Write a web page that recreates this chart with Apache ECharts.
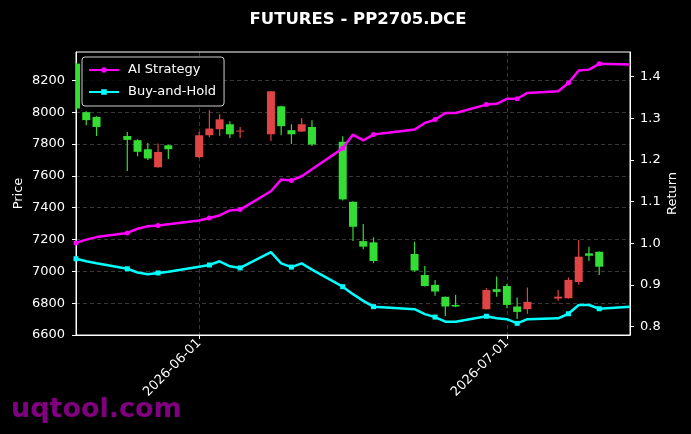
<!doctype html>
<html>
<head>
<meta charset="UTF-8">
<script src="https://cdn.jsdelivr.net/npm/echarts@6/dist/echarts.min.js"></script>
<style>
  html, body { margin: 0; padding: 0; background: #000; }
  #chart { width: 691px; height: 434px; }
</style>
</head>
<body>
<div id="chart"></div>
<script>
// trading days
var dates = ['2026-05-20','2026-05-21','2026-05-22','2026-05-25','2026-05-26','2026-05-27','2026-05-28','2026-05-29',
             '2026-06-01','2026-06-02','2026-06-03','2026-06-04','2026-06-05','2026-06-08','2026-06-09','2026-06-10',
             '2026-06-11','2026-06-12','2026-06-15','2026-06-16','2026-06-17','2026-06-18','2026-06-22','2026-06-23',
             '2026-06-24','2026-06-25','2026-06-26','2026-06-29','2026-06-30','2026-07-01','2026-07-02','2026-07-03',
             '2026-07-06','2026-07-07','2026-07-08','2026-07-09','2026-07-10','2026-07-13'];

// candles (one less than dates, last day has no bar)
var open  = [8305,8000,7970,7850,7824,7767,7654,7792,7717,7855,7893,7924,7880,7861,8037,7887,7878,7907,7814,
             7437,7190,7182,7109,6977,6915,6840,6789,6762,6888,6908,6779,6762,6829,6831,6933,7113,7123];
var close = [8023,7950,7907,7826,7751,7709,7750,7767,7855,7897,7955,7861,7884,8131,7912,7861,7924,7797,7452,
             7280,7155,7065,7005,6908,6873,6779,6779,6883,6871,6789,6745,6808,6841,6946,7092,7098,7029];
var low   = [8010,7918,7850,7630,7723,7700,7650,7705,7712,7843,7851,7838,7838,7819,7855,7800,7875,7788,7445,
             7190,7138,7051,6998,6904,6846,6720,6775,6760,6841,6768,6700,6733,6815,6828,6915,7065,6977];
var high  = [8310,8005,7975,7876,7830,7807,7803,7795,7876,8012,7987,7943,7907,8131,8040,7924,7964,7949,7849,
             7440,7297,7214,7186,7034,6946,6842,6852,6894,6967,6921,6835,6898,6883,6961,7197,7155,7125];

// cumulative returns
var aiReturn = [1.001,1.009,1.015,1.025,1.035,1.041,1.043,1.046,1.055,1.061,1.067,1.079,1.081,1.125,1.153,1.151,
                1.161,1.178,1.228,1.261,1.247,1.261,1.273,1.289,1.297,1.313,1.313,1.333,1.335,1.347,1.347,1.361,
                1.365,1.385,1.415,1.417,1.431,1.429];
var bhReturn = [0.963,0.957,0.952,0.939,0.930,0.926,0.929,0.932,0.944,0.948,0.957,0.945,0.941,0.979,0.952,0.943,
                0.952,0.937,0.896,0.878,0.862,0.848,0.842,0.830,0.823,0.812,0.812,0.825,0.820,0.818,0.808,0.818,
                0.820,0.831,0.852,0.852,0.843,0.848];

var dateTicks = ['2026-06-01', '2026-07-01'];
var priceTicks = [6600, 6800, 7000, 7200, 7400, 7600, 7800, 8000, 8200];
var returnTicks = [0.8, 0.9, 1.0, 1.1, 1.2, 1.3, 1.4];

function ts(s) { return echarts.time.parse(s).getTime(); }

var candleData = [];
for (var i = 0; i < open.length; i++) {
    candleData.push([ts(dates[i]), open[i], close[i], low[i], high[i]]);
}
var aiData = [], bhData = [];
for (var j = 0; j < dates.length; j++) {
    aiData.push([ts(dates[j]), aiReturn[j]]);
    bhData.push([ts(dates[j]), bhReturn[j]]);
}

var font = 'DejaVu Sans';
var upColor = '#e04444', downColor = '#33dd33';
var gridLine = { show: true, lineStyle: { color: 'rgba(255,255,255,0.28)', type: [4, 3], width: 0.8 } };

// candle drawn by custom series so it is clipped to the plot area
function renderCandle(params, api) {
    var t = api.value(0), o = api.value(1), c = api.value(2), l = api.value(3), h = api.value(4);
    var po = api.coord([t, o]), pc = api.coord([t, c]);
    var pl = api.coord([t, l]), ph = api.coord([t, h]);
    var col = c >= o ? upColor : downColor;
    var top = Math.min(po[1], pc[1]);
    var hgt = Math.max(Math.abs(po[1] - pc[1]), 1);
    return {
        type: 'group',
        children: [{
            type: 'line',
            shape: { x1: ph[0], y1: ph[1], x2: pl[0], y2: pl[1] },
            style: { stroke: col, lineWidth: 1.2 }
        }, {
            type: 'rect',
            shape: { x: po[0] - 4, y: top, width: 8, height: hgt },
            style: { fill: col }
        }]
    };
}

var myChart = echarts.init(document.getElementById('chart'));
var option = {
    backgroundColor: '#000',
    animation: false,
    textStyle: { fontFamily: font },
    title: {
        text: 'FUTURES - PP2705.DCE',
        left: 353, top: 6, textAlign: 'center',
        textStyle: { color: '#fff', fontSize: 16.5, fontWeight: 'bold', fontFamily: font }
    },
    legend: {
        orient: 'vertical', left: 82, top: 57,
        padding: [6, 8, 7, 6],
        itemWidth: 30, itemHeight: 7, itemGap: 8,
        backgroundColor: 'rgba(0,0,0,0.8)', borderColor: '#cccccc', borderWidth: 1, borderRadius: 3,
        textStyle: { color: '#fff', fontSize: 13, lineHeight: 14, fontFamily: font, padding: [0, 0, 0, 4] },
        data: ['AI Strategy', 'Buy-and-Hold']
    },
    grid: {
        left: 76, right: 61, top: 52, bottom: 99, show: true, borderColor: '#fff', borderWidth: 1,
        outerBoundsMode: 'none', containLabel: false
    },
    xAxis: {
        type: 'value',
        min: ts(dates[0]), max: ts(dates[dates.length - 1]),
        axisLine: { lineStyle: { color: '#fff' } },
        axisTick: { customValues: dateTicks.map(ts), length: 4, lineStyle: { color: '#fff' } },
        axisLabel: {
            customValues: dateTicks.map(ts), rotate: 45, color: '#fff', fontSize: 13, margin: 6,
            formatter: function (v) { return echarts.time.format(v, '{yyyy}-{MM}-{dd}', false); }
        },
        splitLine: gridLine
    },
    yAxis: [{
        type: 'value', min: 6600, max: 8378, interval: 200,
        name: 'Price', nameLocation: 'middle', nameGap: 51, nameRotate: 90, nameMoveOverlap: false,
        nameTextStyle: { color: '#fff', fontSize: 13 },
        axisLine: { show: true, lineStyle: { color: '#fff' } },
        axisTick: { show: true, customValues: priceTicks, length: 4, lineStyle: { color: '#fff' } },
        axisLabel: {
            color: '#fff', fontSize: 13, margin: 11, customValues: priceTicks,
            formatter: function (v) { return String(v); }
        },
        splitLine: gridLine
    }, {
        type: 'value', min: 0.78, max: 1.4593, position: 'right',
        name: 'Return', nameLocation: 'middle', nameGap: 36, nameRotate: 90, nameMoveOverlap: false,
        nameTextStyle: { color: '#fff', fontSize: 13 },
        axisLine: { show: true, lineStyle: { color: '#fff' } },
        axisTick: { show: true, customValues: returnTicks, length: 4, lineStyle: { color: '#fff' } },
        axisLabel: {
            color: '#fff', fontSize: 13, margin: 10, customValues: returnTicks,
            formatter: function (v) { return v.toFixed(1); }
        },
        splitLine: { show: false }
    }],
    graphic: [{
        type: 'text', left: 11, top: 396, z: -10,
        style: { text: 'uqtool.com', fill: '#800080', font: 'bold 27px "DejaVu Sans"' }
    }],
    series: [{
        name: 'Price',
        type: 'custom',
        renderItem: renderCandle,
        clip: true,
        encode: { x: 0, y: [1, 2, 3, 4] },
        data: candleData
    }, {
        name: 'AI Strategy',
        type: 'line',
        yAxisIndex: 1,
        data: aiData,
        symbol: 'circle',
        symbolSize: function (v, p) { return p.dataIndex % 3 === 0 ? 5 : 0; },
        lineStyle: { color: '#ff00ff', width: 2.5 },
        itemStyle: { color: '#ff00ff' },
        z: 5
    }, {
        name: 'Buy-and-Hold',
        type: 'line',
        yAxisIndex: 1,
        data: bhData,
        symbol: 'rect',
        symbolSize: function (v, p) { return p.dataIndex % 3 === 0 ? 5 : 0; },
        lineStyle: { color: '#00ffff', width: 2.5 },
        itemStyle: { color: '#00ffff' },
        z: 5
    }]
};
myChart.setOption(option);
</script>
</body>
</html>
